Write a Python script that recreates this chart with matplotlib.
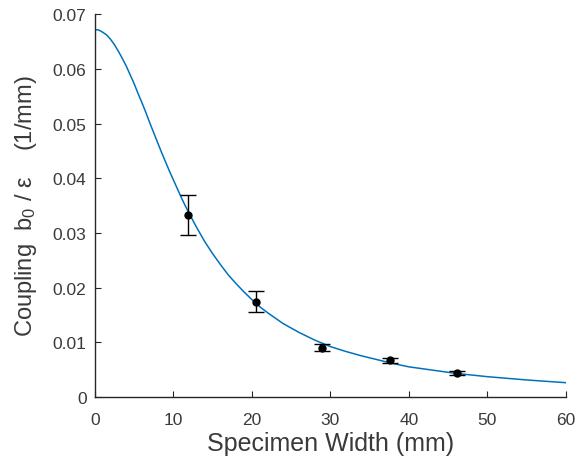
import numpy as np
import matplotlib
matplotlib.use("Agg")
import matplotlib.pyplot as plt
import matplotlib.ticker as mtick

# measured coupling vs specimen width
width_mm = [11.9, 20.5, 28.9, 37.6, 46.1]
coupling = [0.0333, 0.0174, 0.0090, 0.0067, 0.0044]
coupling_err = [0.0037, 0.0019, 0.0006, 0.0005, 0.0004]

# model curve
curve_x = [0, 0.5, 1, 1.5, 2, 2.5, 3, 3.5, 4, 4.5, 5, 5.5, 6, 6.5, 7, 7.5, 8, 8.5,
           9, 9.5, 10, 10.5, 11, 11.5, 12, 13, 14, 15, 16, 17, 18, 19, 20, 21, 22,
           23, 24, 25, 26, 27, 28, 30, 32, 34, 36, 38, 40, 42, 44, 46, 48, 50, 55, 60]
curve_y = [0.0672, 0.0671, 0.0667, 0.0662, 0.0654, 0.0644, 0.0632, 0.0619, 0.0605,
           0.0589, 0.0573, 0.0555, 0.0538, 0.0520, 0.0501, 0.0483, 0.0465, 0.0447,
           0.0430, 0.0413, 0.0397, 0.0381, 0.0365, 0.0350, 0.0336, 0.0309, 0.0284,
           0.0262, 0.0242, 0.0223, 0.0207, 0.0192, 0.0178, 0.0165, 0.0154, 0.0144,
           0.0134, 0.0126, 0.0118, 0.0111, 0.0104, 0.0092, 0.0083, 0.0075, 0.0068,
           0.0061, 0.0055, 0.0051, 0.0047, 0.0043, 0.0040, 0.0037, 0.0031, 0.0026]

plt.rcParams['font.family'] = ['Liberation Sans', 'DejaVu Sans']
plt.rcParams['mathtext.fontset'] = 'custom'
plt.rcParams['mathtext.rm'] = 'Liberation Sans'
plt.rcParams['mathtext.it'] = 'Liberation Sans'

axis_col = '#3a3a3a'

fig = plt.figure(figsize=(5.75, 4.6), dpi=100)
ax = fig.add_axes([0.165, 0.135, 0.819, 0.832])

ax.plot(curve_x, curve_y, color='#0072BD', linewidth=1.1, zorder=2)
ax.errorbar(width_mm, coupling, yerr=coupling_err, fmt='o', color='black',
            markersize=5, elinewidth=1, capsize=6, capthick=1, zorder=3)

ax.set_xlim(0, 60)
ax.set_ylim(0, 0.07)
ax.set_xticks(np.arange(0, 61, 10))
ax.set_yticks(np.arange(0, 0.0701, 0.01))
ax.yaxis.set_major_formatter(mtick.FuncFormatter(lambda v, p: '0' if abs(v) < 1e-9 else f'{v:.2f}'))

for s in ['top', 'right']:
    ax.spines[s].set_visible(False)
for s in ['left', 'bottom']:
    ax.spines[s].set_color('#262626')
    ax.spines[s].set_linewidth(1.0)
ax.tick_params(direction='in', length=4, width=0.8, colors='#262626',
               labelcolor=axis_col, labelsize=12.5)
ax.tick_params(axis='y', pad=6)
ax.tick_params(axis='x', pad=11)

ax.set_xlabel('Specimen Width (mm)', fontsize=18, color=axis_col, labelpad=3)
ax.set_ylabel(r'Coupling  b$_0$ / ε    (1/mm)', fontsize=17, color=axis_col, labelpad=10)

fig.savefig('out.png', dpi=100)
